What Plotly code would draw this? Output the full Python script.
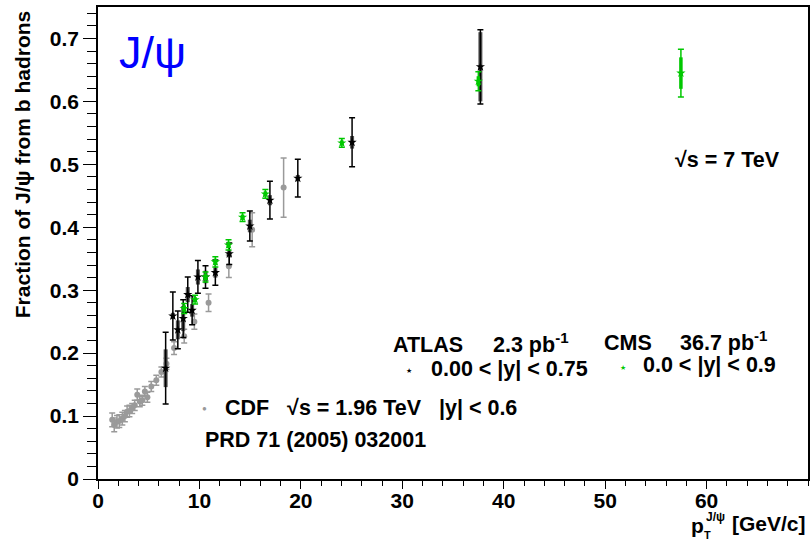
import plotly.graph_objects as go

# ---------------- data ----------------
cdf_pt = [1.4, 1.6, 1.87, 2.1, 2.4, 2.65, 2.87, 3.1, 3.37, 3.62, 3.87, 4.12, 4.37, 4.62, 4.87,
          5.25, 5.75, 6.25, 6.75, 7.5, 8.5, 9.5, 10.9, 12.9, 15.2, 18.3]
cdf_frac = [0.094, 0.086, 0.091, 0.092, 0.096, 0.100, 0.107, 0.108, 0.112, 0.117, 0.134, 0.123,
            0.125, 0.139, 0.130, 0.147, 0.157, 0.170, 0.183, 0.208, 0.227, 0.250, 0.280, 0.338,
            0.396, 0.463]
cdf_err = [0.011, 0.011, 0.010, 0.010, 0.010, 0.009, 0.009, 0.009, 0.008, 0.008, 0.009, 0.008,
           0.008, 0.008, 0.008, 0.008, 0.008, 0.008, 0.009, 0.010, 0.011, 0.012, 0.014, 0.018,
           0.027, 0.047]

atlas_pt = [6.67, 7.38, 7.87, 8.4, 8.85, 9.28, 9.85, 10.6, 11.57, 12.94, 14.97, 16.95, 19.7, 25.05, 37.7]
atlas_frac = [0.176, 0.259, 0.237, 0.255, 0.293, 0.268, 0.321, 0.321, 0.328, 0.358, 0.402, 0.443,
              0.478, 0.535, 0.655]
atlas_err = [0.057, 0.038, 0.030, 0.030, 0.028, 0.023, 0.026, 0.018, 0.020, 0.017, 0.024, 0.030,
             0.030, 0.039, 0.059]
atlas_sys = [0.030, 0.005, 0.015, 0.020, 0.012, 0.010, 0.012, 0.010, 0.008, 0.006, 0.010, 0.008,
             0.005, 0.010, 0.055]

cms_pt = [8.5, 9.57, 10.6, 11.57, 12.87, 14.25, 16.5, 24.04, 37.5, 57.47]
cms_frac = [0.271, 0.285, 0.321, 0.345, 0.372, 0.416, 0.453, 0.534, 0.632, 0.645]
cms_err = [0.008, 0.007, 0.008, 0.008, 0.008, 0.007, 0.007, 0.007, 0.015, 0.038]
cms_sys = [0.005, 0.004, 0.005, 0.005, 0.005, 0.004, 0.004, 0.004, 0.008, 0.025]

x_ticks = [0, 10, 20, 30, 40, 50, 60]
y_ticks = [0, 0.1, 0.2, 0.3, 0.4, 0.5, 0.6, 0.7]
y_tick_text = ["0", "0.1", "0.2", "0.3", "0.4", "0.5", "0.6", "0.7"]

# ---------------- style ----------------
W, H = 812, 542
L, R, T, B = 98, 2, 7, 63
PW, PH = W - L - R, H - T - B
FONT = "Liberation Sans"
GREEN = "#00c800"
GRAY = "#9a9a9a"
FS = 21.5


def px(x):
    return (x - L) / PW


def py(y):
    return (H - B - y) / PH


fig = go.Figure()

# CDF
fig.add_trace(go.Scatter(
    x=cdf_pt, y=cdf_frac, mode="markers",
    marker=dict(symbol="circle", size=6, color=GRAY),
    error_y=dict(type="data", array=cdf_err, color=GRAY, thickness=1.5, width=3),
    showlegend=False))

# ATLAS systematic (thick) and total errors
fig.add_trace(go.Scatter(
    x=atlas_pt, y=atlas_frac, mode="markers",
    marker=dict(size=1, color="rgba(0,0,0,0)"),
    error_y=dict(type="data", array=atlas_sys, color="#555555", thickness=4, width=0),
    showlegend=False))
fig.add_trace(go.Scatter(
    x=atlas_pt, y=atlas_frac, mode="markers",
    marker=dict(symbol="star", size=7, color="black"),
    error_y=dict(type="data", array=atlas_err, color="black", thickness=1.5, width=3),
    showlegend=False))

# CMS
fig.add_trace(go.Scatter(
    x=cms_pt, y=cms_frac, mode="markers",
    marker=dict(size=1, color="rgba(0,0,0,0)"),
    error_y=dict(type="data", array=cms_sys, color=GREEN, thickness=3.5, width=0),
    showlegend=False))
fig.add_trace(go.Scatter(
    x=cms_pt, y=cms_frac, mode="markers",
    marker=dict(symbol="star", size=7, color=GREEN),
    error_y=dict(type="data", array=cms_err, color=GREEN, thickness=1.5, width=3),
    showlegend=False))

tickfont = dict(family=FONT, size=21, color="black")

fig.update_layout(
    width=W, height=H,
    margin=dict(l=L, r=R, t=T, b=B),
    paper_bgcolor="white", plot_bgcolor="white",
    xaxis=dict(range=[0, 70], tickvals=x_ticks, ticktext=[f"<b>{v}</b>" for v in x_ticks],
               ticks="outside", ticklen=8, tickwidth=1, tickcolor="black",
               ticklabelstandoff=-6,
               minor=dict(dtick=2, ticks="outside", ticklen=5, tickcolor="black"),
               showline=True, linecolor="black", linewidth=1.5, mirror=True,
               showgrid=False, zeroline=False, tickfont=tickfont),
    yaxis=dict(range=[0, 0.75], tickvals=y_ticks, ticktext=[f"<b>{t}</b>" for t in y_tick_text],
               ticks="outside", ticklen=13, tickwidth=1, tickcolor="black",
               minor=dict(dtick=0.02, ticks="outside", ticklen=9, tickcolor="black"),
               showline=True, linecolor="black", linewidth=1.5, mirror=True,
               showgrid=False, zeroline=False, tickfont=tickfont),
)

ann = []


def txt(text, x, y, size=FS, color="black", xanchor="left", yanchor="middle", angle=0):
    ann.append(dict(text=text, x=px(x), y=py(y), xref="paper", yref="paper",
                    xanchor=xanchor, yanchor=yanchor, showarrow=False, textangle=angle,
                    font=dict(family=FONT, size=size, color=color)))


# J/psi label
txt("J/ψ", 117, 53, size=45, color="#0000ff")
# sqrt(s) = 7 TeV
txt("<b>√s = 7 TeV</b>", 675, 160, size=FS)
# ATLAS / CMS legend
txt("<b>ATLAS</b>", 392, 345)
txt("<b>2.3 pb<sup>-1</sup></b>", 492, 343)
txt("<b>CMS</b>", 603, 343)
txt("<b>36.7 pb<sup>-1</sup></b>", 680, 341)
txt("★", 410, 370, size=7, xanchor="center")
txt("<b>0.00 < |y| < 0.75</b>", 430, 369)
txt("★", 624, 367, size=7, color=GREEN, xanchor="center")
txt("<b>0.0 < |y| < 0.9</b>", 643, 365)
# CDF legend
txt("●", 205, 408, size=8, color=GRAY, xanchor="center")
txt("<b>CDF   √s = 1.96 TeV   |y| < 0.6</b>", 223, 408)
txt("<b>PRD 71 (2005) 032001</b>", 203, 440)
# axis titles
txt("<b>Fraction of J/ψ from b hadrons</b>", 22, 164, size=21, xanchor="center", angle=-90)
txt("<b>p</b>", 691, 525, size=21)
txt("<b>T</b>", 704, 535, size=11)
txt("<b>J/ψ</b>", 706, 517, size=12)
txt("<b>[GeV/c]</b>", 810, 523, size=21, xanchor="right")

fig.update_layout(annotations=ann)

fig.write_html("out.html")
